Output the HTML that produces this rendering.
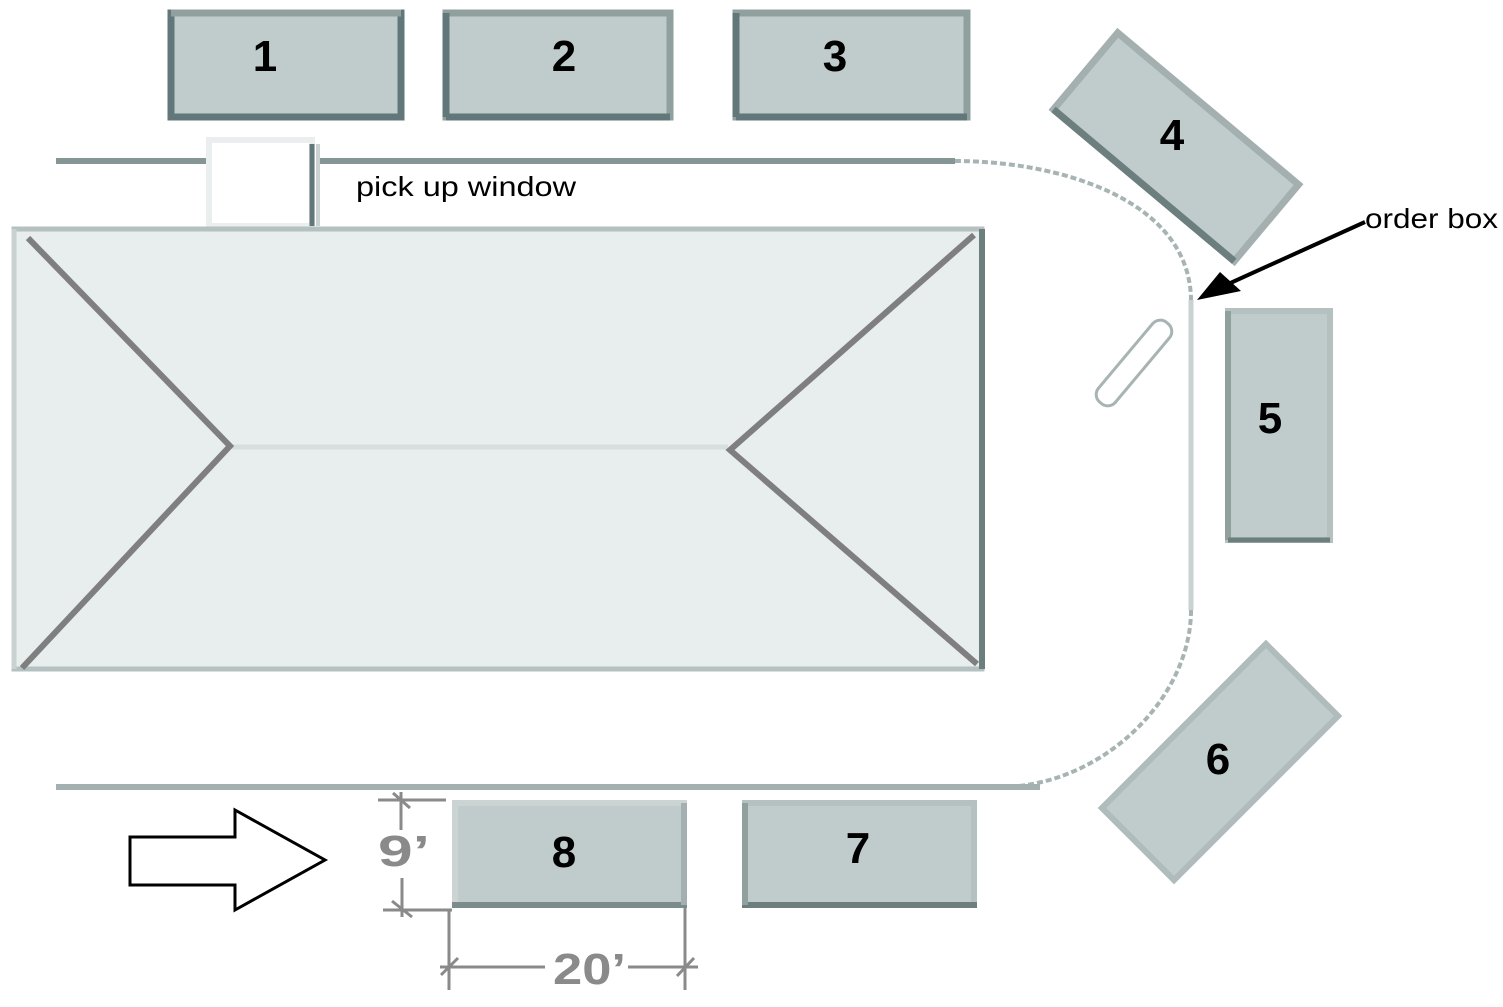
<!DOCTYPE html><html><head><style>body{margin:0;background:#fff}svg{display:block}</style></head><body>
<svg width="1503" height="1007" viewBox="0 0 1503 1007" xmlns="http://www.w3.org/2000/svg" font-family="Liberation Sans, sans-serif">
<!-- top boxes -->
<g stroke-width="7">
<rect x="171" y="13" width="230" height="104" fill="#c0cccb" stroke="#62777a"/>
<line x1="171" y1="13" x2="401" y2="13" stroke="#8fa09e"/>
<rect x="446" y="13" width="224" height="104" fill="#c0cccb" stroke="#8fa09e"/>
<line x1="446" y1="117" x2="670" y2="117" stroke="#62777a"/>
<line x1="446" y1="13" x2="446" y2="117" stroke="#62777a"/>
<rect x="736" y="13" width="231" height="104" fill="#c0cccb" stroke="#8fa09e"/>
<line x1="736" y1="117" x2="967" y2="117" stroke="#62777a"/>
<line x1="736" y1="13" x2="736" y2="117" stroke="#62777a"/>
</g>
<g font-weight="bold" font-size="44" text-anchor="middle" fill="#000">
<text x="265" y="71">1</text><text x="564" y="71">2</text><text x="835" y="71">3</text>
</g>
<!-- walls -->
<g stroke="#869694" stroke-width="6" fill="none">
<line x1="56" y1="161" x2="210" y2="161"/>
<line x1="316" y1="161" x2="955" y2="161"/>
<path d="M955 161 C1060 161 1190 200 1191 300" stroke="#a8b4b3" stroke-width="4" stroke-dasharray="6 3"/>
<line x1="1191" y1="300" x2="1191" y2="610" stroke="#c9d2d1" stroke-width="5"/>
<path d="M1191 610 C1191 700 1100 787 1000 787" stroke="#a8b4b3" stroke-width="4" stroke-dasharray="6 3"/>
<line x1="56" y1="787" x2="1040" y2="787" stroke="#a3b0af"/>
</g>
<!-- window -->
<rect x="209" y="140" width="103" height="86" fill="#fff" stroke="#eaeeee" stroke-width="6"/>
<line x1="312" y1="144" x2="312" y2="226" stroke="#62777a" stroke-width="5"/>
<line x1="318" y1="144" x2="318" y2="226" stroke="#c9d2d1" stroke-width="4"/>
<text x="356" y="196" font-size="28" fill="#000" textLength="220" lengthAdjust="spacingAndGlyphs">pick up window</text>
<!-- building -->
<rect x="14" y="229" width="968" height="440" fill="#e8eded" stroke="#b5c1c0" stroke-width="5"/>
<line x1="982" y1="229" x2="982" y2="669" stroke="#6d7e7e" stroke-width="6"/>
<line x1="14" y1="229" x2="14" y2="669" stroke="#c9d2d1" stroke-width="5"/>
<line x1="232" y1="447" x2="728" y2="447" stroke="#d7dfde" stroke-width="5"/>
<g stroke="#7f7f7f" stroke-width="6" fill="none">
<polyline points="28,238 230,446 22,668"/>
<polyline points="974,235 730,450 977,664"/>
</g>
<!-- box 4 -->
<g transform="translate(1176,147) rotate(40)">
<rect x="-118" y="-50" width="236" height="100" fill="#c0cccb" stroke="#a3b0af" stroke-width="7"/>
<line x1="-118" y1="50" x2="118" y2="50" stroke="#6d7e7e" stroke-width="7"/>
</g>
<text x="1172" y="150" font-size="44" font-weight="bold" text-anchor="middle">4</text>
<!-- box 5 -->
<rect x="1228" y="311" width="102" height="229" fill="#c0cccb" stroke="#b5c1c0" stroke-width="6"/>
<line x1="1228" y1="311" x2="1228" y2="540" stroke="#8fa09e" stroke-width="6"/>
<line x1="1228" y1="540" x2="1330" y2="540" stroke="#6d7e7e" stroke-width="5"/>
<text x="1270" y="433" font-size="44" font-weight="bold" text-anchor="middle">5</text>
<!-- order box -->
<g transform="translate(1134,363) rotate(-50)">
<rect x="-52" y="-11" width="104" height="22" rx="10" fill="none" stroke="#a8b4b3" stroke-width="3"/>
</g>
<!-- arrow -->
<line x1="1365" y1="222" x2="1215" y2="290" stroke="#000" stroke-width="4"/>
<polygon points="1197,300 1220,272 1241,291" fill="#000"/>
<text x="1365" y="228" font-size="28" textLength="133" lengthAdjust="spacingAndGlyphs">order box</text>
<!-- box 6 -->
<g transform="translate(1220,762) rotate(-45)">
<rect x="-116" y="-51" width="232" height="102" fill="#c0cccb" stroke="#b0bcbb" stroke-width="6"/>
</g>
<text x="1218" y="774" font-size="44" font-weight="bold" text-anchor="middle">6</text>
<!-- box 7,8 -->
<rect x="745" y="803" width="229" height="102" fill="#c0cccb" stroke="#b5c1c0" stroke-width="6"/>
<line x1="742" y1="905" x2="977" y2="905" stroke="#6d7e7e" stroke-width="6"/>
<line x1="745" y1="803" x2="745" y2="905" stroke="#8fa09e" stroke-width="6"/>
<text x="858" y="863" font-size="44" font-weight="bold" text-anchor="middle">7</text>
<rect x="455" y="803" width="229" height="102" fill="#c0cccb" stroke="#cbd4d3" stroke-width="6"/>
<line x1="452" y1="905" x2="687" y2="905" stroke="#7a8c8b" stroke-width="6"/>
<line x1="684" y1="803" x2="684" y2="905" stroke="#a3b0af" stroke-width="6"/>
<text x="564" y="867" font-size="44" font-weight="bold" text-anchor="middle">8</text>
<!-- dimensions -->
<g stroke="#8a8a8a" stroke-width="3" fill="none">
<line x1="378" y1="800" x2="446" y2="800"/>
<line x1="401" y1="792" x2="401" y2="830"/>
<line x1="393" y1="793" x2="410" y2="808"/>
<line x1="383" y1="910" x2="452" y2="910"/>
<line x1="402" y1="878" x2="402" y2="917"/>
<line x1="392" y1="901" x2="412" y2="917"/>
<line x1="449" y1="910" x2="449" y2="990"/>
<line x1="685" y1="908" x2="685" y2="990"/>
<line x1="440" y1="967" x2="545" y2="967"/>
<line x1="628" y1="967" x2="698" y2="967"/>
<line x1="441" y1="975" x2="458" y2="958"/>
<line x1="677" y1="976" x2="694" y2="958"/>
</g>
<text x="378" y="866" font-size="44" font-weight="bold" fill="#8a8a8a" textLength="52" lengthAdjust="spacingAndGlyphs">9’</text>
<text x="553" y="984" font-size="44" font-weight="bold" fill="#8a8a8a" textLength="73" lengthAdjust="spacingAndGlyphs">20’</text>
<!-- big arrow -->
<polygon points="130,837 235,837 235,810 325,860 235,910 235,885 130,885" fill="#fff" stroke="#000" stroke-width="3"/>
</svg>
</body></html>
